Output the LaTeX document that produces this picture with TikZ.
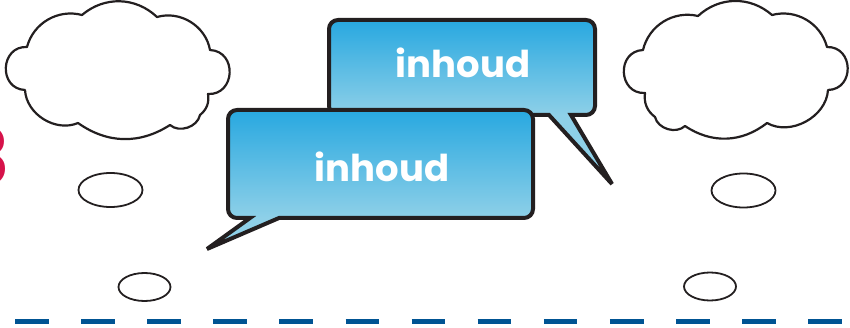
\documentclass[tikz,border=0pt]{standalone}
\usepackage{fontspec}
\newfontfamily\bubblefont{Poppins}
\definecolor{outline}{RGB}{35,31,32}
\definecolor{bubbletop}{RGB}{40,168,224}
\definecolor{bubblebot}{RGB}{142,208,232}
\definecolor{dashblue}{RGB}{0,84,147}
\definecolor{crimson}{RGB}{214,18,74}
\tikzset{
  thought/.style={draw=outline, line width=2.2pt, fill=white, line join=round},
  bubbleline/.style={draw=outline, line width=4pt, line join=miter, miter limit=4},
  bubbletext/.style={text=white, font=\bubblefont\bfseries\fontsize{37}{42}\selectfont, inner sep=0pt},
}
\begin{document}
\begin{tikzpicture}[x=1pt,y=1pt]
\useasboundingbox (0,0) rectangle (850,-328);

% cut-off red numeral at the left edge
\node[text=crimson, font=\bubblefont\bfseries\fontsize{80}{84}\selectfont,
      inner sep=0pt, anchor=base east] (num) at (10,-186) {3};

% left thought cloud
\draw[thought] (25,-90) to[bend left=90, looseness=1.6] (27,-47)
  to[bend left=45] (82,-15) to[bend left=42] (157,-17)
  to[bend left=48] (210,-50) to[bend left=90, looseness=1.6] (208,-94)
  to[bend left=30] (200,-115) to[bend left=60] (170,-125)
  to[bend left=34] (78,-123) to[bend left=55] cycle;
% right thought cloud
\draw[thought] (645,-93) to[bend left=90, looseness=1.6] (643,-50)
  to[bend left=45] (698,-16) to[bend left=42] (772,-15)
  to[bend left=45] (827,-47) to[bend left=90, looseness=1.6] (828,-90)
  to[bend left=58] (767,-123) to[bend left=36] (685,-126)
  to[bend left=60] (655,-117) to[bend left=30] cycle;

% thought dots
\draw[outline, line width=1.8pt] (110.5,-190) ellipse[x radius=32, y radius=17];
\draw[outline, line width=1.8pt] (743.5,-190.5) ellipse[x radius=32, y radius=17];
\draw[outline, line width=1.8pt] (144.5,-287) ellipse[x radius=26, y radius=14];
\draw[outline, line width=1.8pt] (710,-286.5) ellipse[x radius=26, y radius=14];

% back speech bubble
\fill[bubblebot] (549,-115) -- (612,-184) -- (571,-115) -- cycle;
\shade[top color=bubbletop, bottom color=bubblebot, rounded corners=9pt]
  (329,-20) rectangle (595,-115);
\draw[bubbleline] (549,-115) -- (612,-184) -- (571,-115) -- (586,-115)
  arc[start angle=270, end angle=360, radius=9pt] -- (595,-29)
  arc[start angle=0, end angle=90, radius=9pt] -- (338,-20)
  arc[start angle=90, end angle=180, radius=9pt] -- (329,-106)
  arc[start angle=180, end angle=270, radius=9pt] -- cycle;
\node[bubbletext] (back) at (463,-63) {inhoud};

% front speech bubble
\fill[bubblebot] (250,-218) -- (207,-249) -- (279,-218) -- cycle;
\shade[top color=bubbletop, bottom color=bubblebot, rounded corners=9pt]
  (228,-110) rectangle (533,-218);
\draw[bubbleline] (250,-218) -- (207,-249) -- (279,-218) -- (524,-218)
  arc[start angle=270, end angle=360, radius=9pt] -- (533,-119)
  arc[start angle=0, end angle=90, radius=9pt] -- (237,-110)
  arc[start angle=90, end angle=180, radius=9pt] -- (228,-209)
  arc[start angle=180, end angle=270, radius=9pt] -- cycle;
\node[bubbletext] (front) at (382,-167) {inhoud};

% dashed base line
\coordinate (dl) at (15,-321);
\coordinate (dr) at (842,-321);
\draw[dashblue, line width=5pt, dash pattern=on 33.6pt off 32.5pt] (dl) -- (dr);
\end{tikzpicture}
\end{document}
